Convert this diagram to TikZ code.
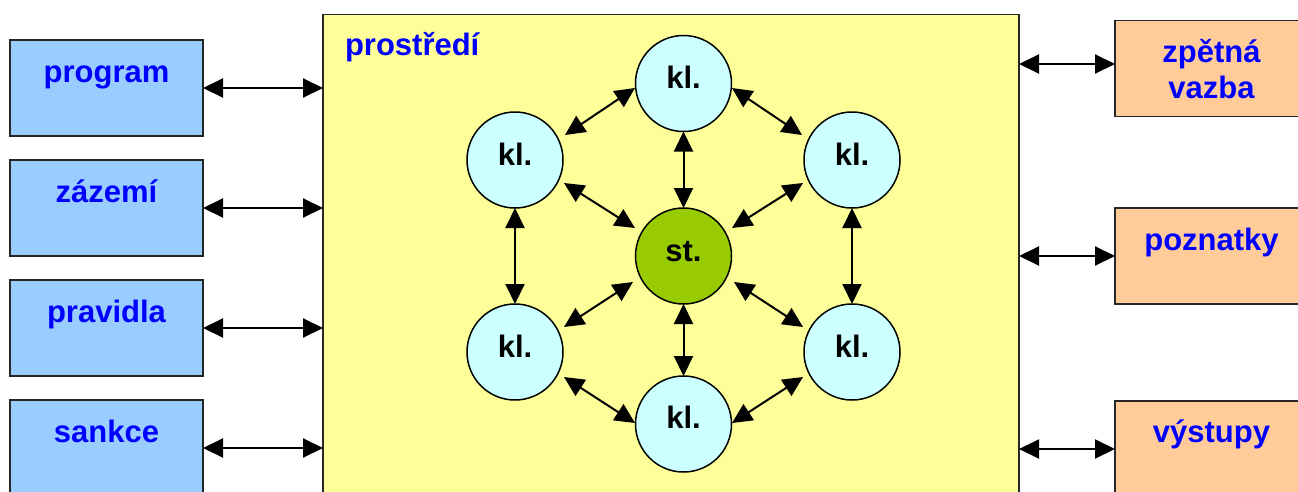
\documentclass[tikz,border=0pt]{standalone}
\usepackage{fontspec}
\setmainfont{Liberation Sans}
\usetikzlibrary{arrows.meta}
\definecolor{lblue}{HTML}{99CCFF}
\definecolor{lorange}{HTML}{FFCC99}
\definecolor{lyellow}{HTML}{FFFF99}
\definecolor{lcyan}{HTML}{CCFFFF}
\definecolor{lgreen}{HTML}{99CC00}
\definecolor{tblue}{HTML}{0000FF}
\begin{document}
\begin{tikzpicture}[x=1pt,y=-1pt,
  every node/.style={inner sep=0pt, outer sep=0pt},
  boxbase/.style={draw=black!85, line width=1.5pt, minimum width=193pt, minimum height=96pt},
  lbox/.style={boxbase, fill=lblue},
  rbox/.style={boxbase, fill=lorange},
  txt/.style={font=\fontsize{31}{36}\selectfont\bfseries, text=tblue, anchor=base},
  circ/.style={circle, draw=black, line width=1.5pt, fill=lcyan, minimum size=96pt},
  ctxt/.style={font=\fontsize{31}{36}\selectfont\bfseries, text=black, anchor=base},
  link/.style={line width=2pt, {Triangle[length=20pt,width=19pt]}-{Triangle[length=20pt,width=19pt]}}
]
\clip (0,0) rectangle (1298,491);
\fill[white] (0,0) rectangle (1298,491);

% environment
\node[draw=black!85, line width=1.5pt, fill=lyellow, minimum width=696pt, minimum height=491pt] (env) at (671,260) {};
\node[txt, anchor=base west] (envt) at (345,55) {prostředí};

% left boxes
\node[lbox] (prog) at (106.5,88) {};
\node[txt] (progt) at (106.5,82) {program};
\node[lbox] (zaz) at (106.5,208) {};
\node[txt] (zazt) at (106.5,202) {zázemí};
\node[lbox] (prav) at (106.5,328) {};
\node[txt] (pravt) at (106.5,322) {pravidla};
\node[lbox] (sank) at (106.5,448) {};
\node[txt] (sankt) at (106.5,442) {sankce};

% right boxes
\node[rbox] (zpet) at (1211.5,68.5) {};
\node[txt] (zpett1) at (1211.5,62) {zpětná};
\node[txt] (zpett2) at (1211.5,98) {vazba};
\node[rbox] (pozn) at (1211.5,256) {};
\node[txt] (poznt) at (1211.5,250) {poznatky};
\node[rbox] (vyst) at (1211.5,449) {};
\node[txt] (vystt) at (1211.5,442) {výstupy};

% side arrows
\draw[link] (prog.east) -- (prog.east -| env.west);
\draw[link] (zaz.east) -- (zaz.east -| env.west);
\draw[link] (prav.east) -- (prav.east -| env.west);
\draw[link] (sank.east) -- (sank.east -| env.west);
\draw[link] ([yshift=4.5pt]zpet.west -| env.east) -- ([yshift=4.5pt]zpet.west);
\draw[link] (pozn.west -| env.east) -- (pozn.west);
\draw[link] (vyst.west -| env.east) -- (vyst.west);

% circles
\node[circ] (T) at (683.5,83.5) {};
\node[circ] (UL) at (515,160) {};
\node[circ] (UR) at (852,160) {};
\node[circ, fill=lgreen] (S) at (683.5,256) {};
\node[circ] (LL) at (515,352) {};
\node[circ] (LR) at (852,352) {};
\node[circ] (B) at (683.5,424) {};
\node[ctxt] (Tt) at (683.5,88) {kl.};
\node[ctxt] (ULt) at (515,165) {kl.};
\node[ctxt] (URt) at (852,165) {kl.};
\node[ctxt] (St) at (683.5,261) {st.};
\node[ctxt] (LLt) at (515,357) {kl.};
\node[ctxt] (LRt) at (852,357) {kl.};
\node[ctxt] (Bt) at (683.5,428) {kl.};

% inner arrows
\draw[link] ([shift={(-48.5,4.5)}]T.center) -- ([shift={(50,-25)}]UL.center);
\draw[link] ([shift={(48.5,4.5)}]T.center) -- ([shift={(-50,-25)}]UR.center);
\draw[link] (T.south) -- (S.north);
\draw[link] ([shift={(49,23)}]UL.center) -- ([shift={(-48.5,-28)}]S.center);
\draw[link] ([shift={(-49,23)}]UR.center) -- ([shift={(48.5,-28)}]S.center);
\draw[link] (UL.south) -- (LL.north);
\draw[link] (UR.south) -- (LR.north);
\draw[link] ([shift={(49,-25)}]LL.center) -- ([shift={(-50.5,26)}]S.center);
\draw[link] ([shift={(-49,-25)}]LR.center) -- ([shift={(50.5,26)}]S.center);
\draw[link] ([shift={(49,25)}]LL.center) -- ([shift={(-48.5,-1)}]B.center);
\draw[link] ([shift={(-49,25)}]LR.center) -- ([shift={(48.5,-1)}]B.center);
\draw[link] (S.south) -- (B.north);
\end{tikzpicture}
\end{document}
